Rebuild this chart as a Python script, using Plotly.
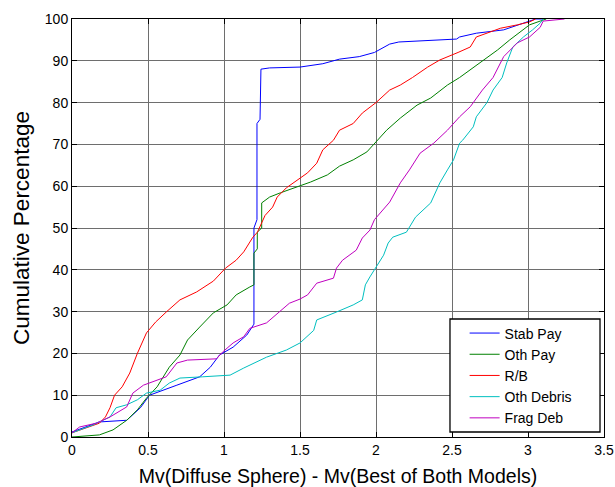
import plotly.graph_objects as go

stab_x = [0, 0.18, 0.36, 0.45, 0.51, 0.58, 0.69, 0.84, 0.91, 0.97, 1.06, 1.15, 1.19, 1.197, 1.197, 1.217, 1.217, 1.237, 1.243,
          1.3, 1.5, 1.65, 1.76, 1.89, 1.99, 2.09, 2.15, 2.42, 2.53, 2.55, 2.66, 2.84, 2.97, 3.01, 3.05, 3.1]
stab_y = [1.2, 3.6, 4, 7, 10, 11, 12.4, 14.4, 16.7, 19.6, 21.5, 24.4, 26.8, 27, 50, 52, 75, 76, 88,
          88.3, 88.5, 89.3, 90.4, 91, 92, 94, 94.5, 95, 95.2, 95.7, 96.6, 97.4, 99, 99.5, 100, 100]

othpay_x = [0, 0.18, 0.27, 0.36, 0.43, 0.49, 0.56, 0.64, 0.71, 0.76, 0.84, 0.93, 1.02, 1.08, 1.17, 1.197, 1.197, 1.219, 1.219,
            1.248, 1.248, 1.3, 1.37, 1.46, 1.57, 1.68, 1.76, 1.85, 1.94, 2.0, 2.07, 2.16, 2.27, 2.36, 2.47, 2.55, 2.6, 2.68,
            2.8, 2.88, 2.97, 3.01, 3.08, 3.12]
othpay_y = [0, 0.5, 1.7, 4, 6.5, 9.3, 12, 16.7, 19.6, 23.2, 26.3, 29.7, 31.6, 34, 35.9, 36.4, 44, 45, 49,
            50, 56, 57.4, 58.4, 59.6, 61, 62.7, 64.8, 66.3, 68.2, 70.6, 73.4, 76.3, 79.4, 81.1, 84.2, 86, 87.3, 89.5,
            92.6, 95, 97.4, 98.6, 99.5, 100]

rb_x = [0, 0.18, 0.22, 0.25, 0.28, 0.33, 0.38, 0.43, 0.49, 0.55, 0.62, 0.71, 0.82, 0.93, 1.01, 1.08, 1.13, 1.19, 1.22,
        1.27, 1.32, 1.35, 1.41, 1.5, 1.55, 1.61, 1.65, 1.72, 1.76, 1.85, 1.91, 2.0, 2.09, 2.16, 2.24, 2.34, 2.42, 2.54,
        2.62, 2.66, 2.82, 2.93, 3.01, 3.05]
rb_y = [1, 3.3, 4.8, 7, 10, 12, 15.3, 20, 24.9, 27.5, 29.9, 32.8, 34.7, 37.3, 40.4, 42.3, 44.3, 47.8, 49,
        53, 55, 57.4, 59.6, 62, 63.2, 65.5, 68.7, 71, 73.4, 75, 77.5, 80, 83, 84.2, 86, 88.5, 90.2, 92,
        93.3, 95.7, 97.8, 98.6, 99.3, 100]

othdeb_x = [0, 0.14, 0.25, 0.29, 0.36, 0.43, 0.49, 0.58, 0.64, 0.71, 0.86, 1.04, 1.13, 1.24, 1.28, 1.41, 1.5, 1.59, 1.61,
            1.74, 1.85, 1.91, 1.93, 1.96, 2.0, 2.05, 2.08, 2.11, 2.2, 2.26, 2.36, 2.42, 2.47, 2.51, 2.55, 2.57, 2.64, 2.66,
            2.73, 2.77, 2.83, 2.86, 2.9, 2.97, 3.03, 3.08, 3.1]
othdeb_y = [1, 2.9, 4.8, 7, 7.7, 8.9, 10.5, 11.2, 12.9, 14.1, 14.4, 14.8, 16.5, 18.4, 19.1, 20.8, 22.5, 25.5, 28,
            29.9, 31.6, 32.8, 36.4, 38.3, 40.7, 43.5, 46.4, 47.8, 49, 52.6, 56, 60.8, 63.9, 66.3, 70.3, 71, 74.2, 76.6,
            80, 83, 86, 89.5, 93.3, 95.7, 97.4, 99, 100]

frag_x = [0, 0.05, 0.16, 0.25, 0.36, 0.4, 0.47, 0.56, 0.62, 0.69, 0.76, 0.95, 0.99, 1.06, 1.13, 1.17, 1.24, 1.28, 1.43,
          1.5, 1.55, 1.61, 1.72, 1.74, 1.78, 1.87, 1.91, 1.96, 1.99, 2.09, 2.16, 2.22, 2.29, 2.38, 2.47, 2.55, 2.62, 2.7,
          2.77, 2.84, 2.93, 3.01, 3.08, 3.1, 3.24]
frag_y = [1, 2.4, 3.3, 4.8, 7.2, 10.5, 12.4, 13.6, 14.4, 17.7, 18.4, 18.7, 20.3, 22.5, 24, 26, 26.8, 27.3, 32,
          33, 34, 36.8, 38, 40.4, 42.3, 44.7, 47.6, 49.5, 52, 56.2, 60.8, 63.9, 67.9, 70.3, 73.4, 76.6, 79, 83,
          86, 91, 94.3, 95.7, 98, 99.5, 100]

series = [
    ("Stab Pay", stab_x, stab_y, "#0000ff"),
    ("Oth Pay", othpay_x, othpay_y, "#008000"),
    ("R/B", rb_x, rb_y, "#ff0000"),
    ("Oth Debris", othdeb_x, othdeb_y, "#00bfbf"),
    ("Frag Deb", frag_x, frag_y, "#bf00bf"),
]

x_ticks = [0, 0.5, 1, 1.5, 2, 2.5, 3, 3.5]
x_tick_labels = ["0", "0.5", "1", "1.5", "2", "2.5", "3", "3.5"]
y_ticks = list(range(0, 101, 10))

FONT = "Arial, Liberation Sans, sans-serif"

fig = go.Figure()
for name, xs, ys, col in series:
    fig.add_trace(go.Scatter(x=xs, y=ys, mode="lines", name=name,
                             line=dict(color=col, width=1)))

axis_common = dict(showline=True, linecolor="black", linewidth=1, mirror="ticks",
                   ticks="inside", ticklen=5, tickcolor="black",
                   showgrid=True, gridcolor="#6e6e6e", gridwidth=1, zeroline=False,
                   tickfont=dict(family=FONT, size=14, color="black"))

# legend box frame (opaque, like the original)
fig.add_shape(type="rect", xref="paper", yref="paper",
              x0=0.7105, x1=0.9925, y0=0.012, y1=0.2823,
              fillcolor="white", line=dict(color="black", width=1.3), layer="above")

fig.update_layout(
    width=615, height=487,
    margin=dict(l=72, r=11, t=19, b=50),
    paper_bgcolor="white", plot_bgcolor="white",
    font=dict(family=FONT, color="black"),
    xaxis=dict(range=[0, 3.5], tickvals=x_ticks, ticktext=x_tick_labels, automargin=False,
               title=dict(text="Mv(Diffuse Sphere) - Mv(Best of Both Models)",
                          font=dict(family=FONT, size=19.5), standoff=12),
               **axis_common),
    yaxis=dict(range=[0, 100], tickvals=y_ticks, automargin=False,
               title=dict(text="Cumulative Percentage", font=dict(family=FONT, size=22.5), standoff=8),
               **axis_common),
    legend=dict(x=0.738, y=0.286, xanchor="left", yanchor="top",
                bgcolor="rgba(0,0,0,0)", borderwidth=0,
                font=dict(family=FONT, size=14, color="black"),
                tracegroupgap=0),
    showlegend=True,
)

fig.write_html("out.html")
